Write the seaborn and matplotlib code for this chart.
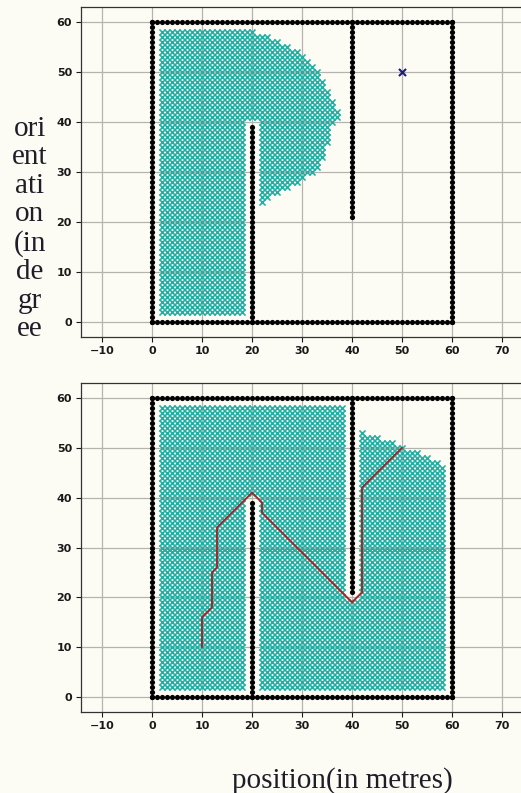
import numpy as np
import pandas as pd
import matplotlib
matplotlib.use("Agg")
import matplotlib.pyplot as plt
import seaborn as sns

# ---------------- data ----------------
# obstacle walls: (x0, y0) -> (x1, y1), dots every 1 m
wall_x0 = [0, 60, 0, 0, 20, 40]
wall_y0 = [0, 0, 60, 0, 0, 21]
wall_x1 = [60, 60, 60, 0, 20, 40]
wall_y1 = [0, 60, 60, 60, 39, 60]

goal_x = [50]
goal_y = [50]

# top panel: explored cells (left corridor rows 2..58, x 2..18; above wall y>=41)
top_frontier_y = list(range(24, 59))
top_frontier_xmax = [22, 23, 25, 27, 29, 30, 32, 33, 33, 34, 34, 34, 35, 35, 35, 35,
                     36, 37, 37, 36, 36, 35, 35, 34, 34, 33, 33, 32, 31, 30, 29,
                     27, 25, 23, 20]

# bottom panel: explored right room, top edge per column
bottom_right_x = list(range(42, 59))
bottom_right_ymax = [53, 52, 52, 52, 51, 51, 51, 50, 50, 49, 49, 49, 48, 48, 47, 47, 46]

# final path
path_x = [10, 10, 12, 12, 13, 13, 20, 22, 22, 40, 42, 42, 50]
path_y = [10, 16, 18, 25, 26, 34, 41, 39, 37, 19, 21, 42, 50]

xticks = [-10, 0, 10, 20, 30, 40, 50, 60, 70]
yticks = [0, 10, 20, 30, 40, 50, 60]
ylabel_text = "ori\nent\nati\non\n(in\nde\ngr\nee"
xlabel_text = "position(in metres)"

# ---------------- build point tables ----------------
def wall_points():
    xs, ys = [], []
    for x0, y0, x1, y1 in zip(wall_x0, wall_y0, wall_x1, wall_y1):
        n = int(max(abs(x1 - x0), abs(y1 - y0))) + 1
        xs += list(np.linspace(x0, x1, n))
        ys += list(np.linspace(y0, y1, n))
    return pd.DataFrame({"x": xs, "y": ys})

def block(xa, xb, ya, yb):
    gx, gy = np.meshgrid(np.arange(xa, xb + 1), np.arange(ya, yb + 1))
    return list(gx.ravel()), list(gy.ravel())

def top_cells():
    xs, ys = [], []
    fr = dict(zip(top_frontier_y, top_frontier_xmax))
    for y in range(2, 59):
        if y >= 41:
            xr = list(range(2, fr[y] + 1))
        else:
            xr = list(range(2, 19))
            if y in fr:
                xr += list(range(22, fr[y] + 1))
        xs += xr
        ys += [y] * len(xr)
    return pd.DataFrame({"x": xs, "y": ys})

def bottom_cells():
    xs, ys = [], []
    for (xa, xb, ya, yb) in [(2, 18, 2, 58), (19, 21, 41, 58), (22, 38, 2, 58), (39, 41, 2, 19)]:
        a, b = block(xa, xb, ya, yb)
        xs += a
        ys += b
    for x, ym in zip(bottom_right_x, bottom_right_ymax):
        for y in range(2, ym + 1):
            xs.append(x)
            ys.append(y)
    return pd.DataFrame({"x": xs, "y": ys})

walls = wall_points()
cells_top = top_cells()
cells_bot = bottom_cells()
path = pd.DataFrame({"x": path_x, "y": path_y})
goal = pd.DataFrame({"x": goal_x, "y": goal_y})

# ---------------- style ----------------
sns.set_theme(style="whitegrid")
BG = "#fdfcf4"
plt.rcParams.update({
    "figure.facecolor": BG,
    "axes.facecolor": BG,
    "grid.color": "#b5b3ad",
    "grid.linewidth": 0.9,
    "axes.edgecolor": "#333333",
    "axes.linewidth": 0.9,
})
plt.rcParams["font.family"] = ["DejaVu Sans"]

W, H = 521, 793
fig = plt.figure(figsize=(W / 100, H / 100), dpi=100)

CYAN = "#1eafa5"
axes_px = [(81, 7, 523, 337), (81, 383, 523, 712)]
axs = []
for (l, t, r, b) in axes_px:
    ax = fig.add_axes([l / W, 1 - b / H, (r - l) / W, (b - t) / H])
    axs.append(ax)

for i, ax in enumerate(axs):
    sns.scatterplot(data=walls, x="x", y="y", ax=ax, color="black", marker="o",
                    s=14, linewidth=0, zorder=3)
    cells = cells_top if i == 0 else cells_bot
    if i == 0:
        sns.scatterplot(data=goal, x="x", y="y", ax=ax, color="#1c1c72", marker="x",
                        s=26, linewidth=1.5, zorder=4)
    sns.scatterplot(data=cells, x="x", y="y", ax=ax, color=CYAN, marker="x",
                    s=19, linewidth=1.15, zorder=5)
    if i == 1:
        sns.lineplot(data=path, x="x", y="y", ax=ax, sort=False, estimator=None,
                     color="#a3262a", linewidth=1.4, zorder=6)
    ax.set_xlim(-14.2, 74.2)
    ax.set_ylim(-3, 63)
    ax.set_xticks(xticks)
    ax.set_yticks(yticks)
    ax.set_xlabel("")
    ax.set_ylabel("")
    ax.tick_params(axis="both", labelsize=8, colors="#1a1a1a", length=3.5, width=0.8,
                   pad=3, left=True, bottom=True)
    for lab in ax.get_xticklabels() + ax.get_yticklabels():
        lab.set_fontweight("bold")
    for sp in ax.spines.values():
        sp.set_color("#333333")
    ax.grid(True, zorder=0)
    ax.set_axisbelow(True)

fig.text(30 / W, 1 - 229 / H, ylabel_text, ha="center", va="center",
         multialignment="center", fontsize=21, linespacing=1.12,
         family=["Liberation Serif"], color="#1e1e2a")
fig.text(342 / W, 1 - 781 / H, xlabel_text, ha="center", va="center",
         fontsize=21, family=["Liberation Serif"], color="#1e1e2a")

fig.savefig("out.png", dpi=100, facecolor=BG)
